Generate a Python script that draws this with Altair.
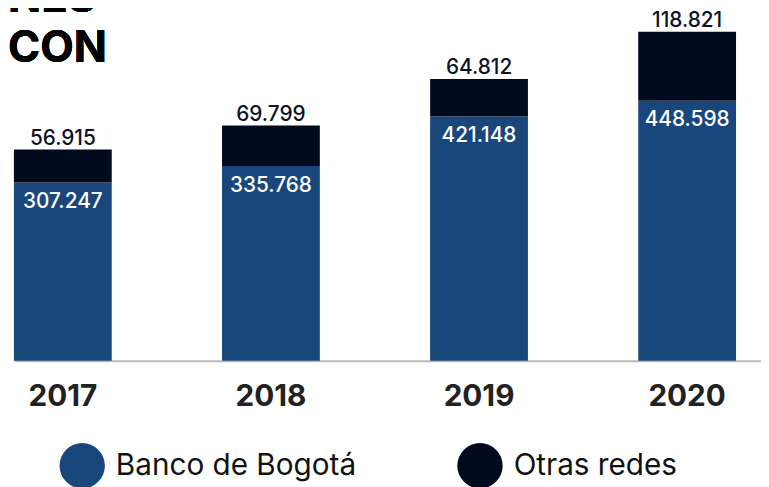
import altair as alt
import pandas as pd

years = ["2017", "2018", "2019", "2020"]
banco = [307247, 335768, 421148, 448598]
otras = [56915, 69799, 64812, 118821]
series = ["Banco de Bogotá", "Otras redes"]
colors = ["#1a477b", "#020a1e"]
title_lines = ["NES", "CON"]


def fmt(v):
    return f"{v:,}".replace(",", ".")


bars_df = pd.DataFrame({
    "year": years * 2,
    "serie": [series[0]] * len(years) + [series[1]] * len(years),
    "value": banco + otras,
    "orden": [0] * len(years) + [1] * len(years),
})
lab_df = pd.DataFrame({
    "year": years,
    "banco": banco,
    "total": [b + o for b, o in zip(banco, otras)],
    "banco_lbl": [fmt(v) for v in banco],
    "otras_lbl": [fmt(v) for v in otras],
})

FONT = "Inter"
xenc = alt.X(
    "year:N", sort=years,
    scale=alt.Scale(paddingInner=0.53, paddingOuter=0.06, align=0),
    axis=alt.Axis(title=None, labelAngle=0, ticks=False, domainColor="#bbbbbb",
                  domainWidth=2, labelFont=FONT, labelFontSize=30,
                  labelFontWeight="bold", labelColor="#222222", labelPadding=21),
)
yscale = alt.Scale(domain=[0, 604000])

bars = alt.Chart(bars_df).mark_bar().encode(
    x=xenc,
    y=alt.Y("value:Q", stack="zero", scale=yscale, axis=None),
    color=alt.Color(
        "serie:N", scale=alt.Scale(domain=series, range=colors),
        legend=alt.Legend(
            title=None, orient="none", legendX=46, legendY=437,
            direction="horizontal", symbolType="circle", symbolSize=2100,
            symbolStrokeWidth=0, symbolOpacity=1, labelFont=FONT,
            labelFontSize=30, labelColor="#111111", labelOffset=11,
            labelLimit=0, columnPadding=102,
        ),
    ),
    order=alt.Order("orden:Q"),
)

in_text = alt.Chart(lab_df).mark_text(
    font=FONT, fontSize=21, fontWeight=500, color="white", baseline="middle", dy=20
).encode(x=alt.X("year:N", sort=years), y=alt.Y("banco:Q", scale=yscale, axis=None),
         text="banco_lbl:N")

top_text = alt.Chart(lab_df).mark_text(
    font=FONT, fontSize=21, fontWeight=500, color="#0d1326", baseline="alphabetic", dy=-5
).encode(x=alt.X("year:N", sort=years), y=alt.Y("total:Q", scale=yscale, axis=None),
         text="otras_lbl:N")

t1 = alt.Chart(lab_df).mark_text(
    font=FONT, fontSize=44, fontWeight="bold", color="black", align="left",
    baseline="alphabetic"
).encode(x=alt.value(-6), y=alt.value(2), text=alt.value(title_lines[0]))
t2 = alt.Chart(lab_df).mark_text(
    font=FONT, fontSize=44, fontWeight="bold", color="black", align="left",
    baseline="alphabetic"
).encode(x=alt.value(-6), y=alt.value(52), text=alt.value(title_lines[1]))

chart = alt.layer(bars, in_text, top_text, t1, t2).properties(
    width=755, height=354,
    autosize=alt.AutoSizeParams(type="none"),
    padding={"left": 6, "top": 0, "right": 0, "bottom": 125},
).configure_view(strokeWidth=0)

chart.save("out.html", embed_options={"renderer": "svg", "actions": False})
